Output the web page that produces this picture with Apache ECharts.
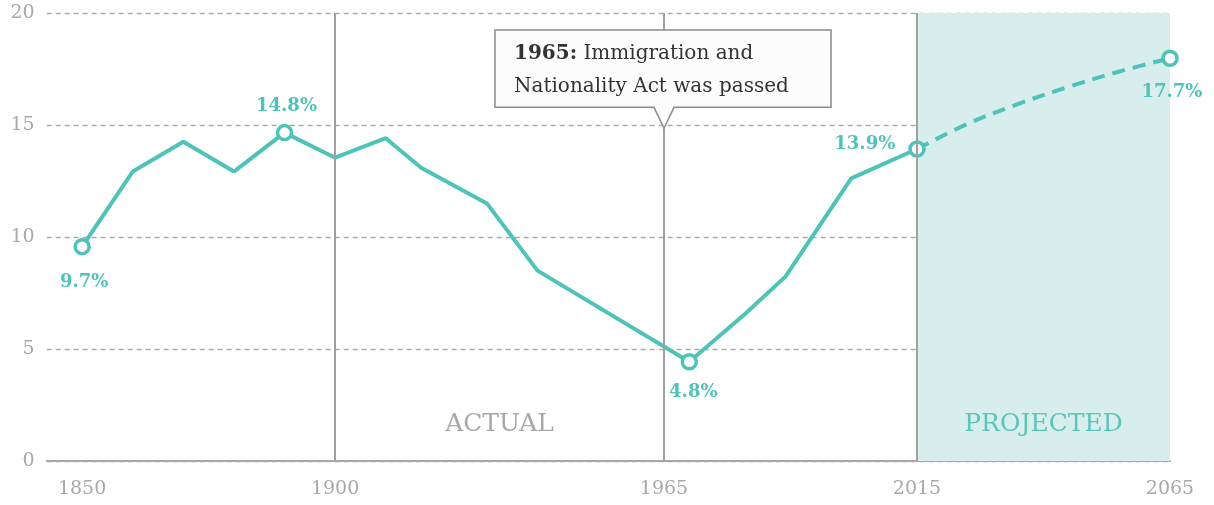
<!DOCTYPE html>
<html><head><meta charset="utf-8">
<script src="https://cdn.jsdelivr.net/npm/echarts@6/dist/echarts.min.js"></script>
<style>html,body{margin:0;padding:0;background:#fff}#c{width:1214px;height:505px}</style>
</head><body><div id="c"></div>
<script>
// ---- data ----
const histYears = [1850,1860,1870,1880,1890,1900,1910,1917,1930,1940,1970,1981,1989,2002,2015];
const histShare = [9.57,12.92,14.25,12.92,14.66,13.54,14.41,13.09,11.5,8.5,4.43,6.56,8.23,12.62,13.93];
const projYears = [2015,2025,2035,2045,2055,2065];
const projShare = [13.93,15.05,15.94,16.71,17.39,17.98];
const calloutYears = [1850,1890,1970,2015,2065];
const calloutText = ['9.7%','14.8%','4.8%','13.9%','17.7%'];
const xTickLabels = [1850,1900,1965,2015,2065];
const eventYears = [1900,1965,2015];
const periodNames = ['ACTUAL','PROJECTED'];
const periodStart = [1900,2015];
const periodEnd = [1965,2065];
const annotationYear = 1965;
const annotationBold = '1965:';
const annotationLines = ['Immigration and','Nationality Act was passed'];

// ---- styles ----
const TEAL = '#4fc3b9';
const SERIF = '"DejaVu Serif", "Liberation Serif", serif';
const calloutPlacement = {
  1850:{position:'bottom',distance:18,offset:[2,0]},
  1890:{position:'top',distance:9,offset:[2,0]},
  1970:{position:'bottom',distance:13,offset:[4,0]},
  2015:{position:'left',distance:13,offset:[0,-5]},
  2065:{position:'bottom',distance:16,offset:[2,0]}
};
function pointItem(year, val){
  const k = calloutYears.indexOf(year);
  if (k < 0) return {value:[year,val], symbol:'none'};
  const p = calloutPlacement[year];
  return {
    value:[year,val], symbol:'circle', symbolSize:14,
    itemStyle:{color:'#fff', borderColor:TEAL, borderWidth:3.5},
    label:{show:true, formatter:calloutText[k], position:p.position, distance:p.distance, offset:p.offset,
      fontFamily:SERIF, fontWeight:'bold', fontSize:18, color:TEAL}
  };
}

const chart = echarts.init(document.getElementById('c'), null, {renderer:'canvas'});
const option = {
  animation:false,
  backgroundColor:'#fff',
  grid:{left:46.7, right:44, top:13, bottom:44},
  xAxis:{
    type:'value', min:1843, max:2065,
    axisLine:{show:true, lineStyle:{color:'#a8a8a8', width:2}},
    axisTick:{show:false, customValues:xTickLabels},
    axisLabel:{customValues:xTickLabels, margin:19, color:'#a8a8a8', fontFamily:SERIF, fontSize:19, formatter:v=>String(v)},
    splitLine:{show:false}
  },
  yAxis:{
    type:'value', min:0, max:20, interval:5,
    axisLine:{show:false}, axisTick:{show:false},
    axisLabel:{margin:12, color:'#a8a8a8', fontFamily:SERIF, fontSize:19},
    splitLine:{show:true, lineStyle:{color:'#aaaaaa', width:1.3, type:[5,4]}}
  },
  series:[
    { // shaded periods + period names (under the grid lines)
      type:'line', data:[], z:-1, silent:true,
      markArea:{silent:true, data: periodNames.map((n,i)=>[
        {xAxis:periodStart[i], name:n,
         itemStyle:{color: i===1 ? '#d8eeec' : 'rgba(0,0,0,0)'},
         label:{show:true, position:'insideBottom', distance:24, fontFamily:SERIF, fontSize:25,
                color: i===1 ? '#5cc4bb' : '#a8a8a8'}},
        {xAxis:periodEnd[i]}
      ])}
    },
    { // vertical event lines
      type:'line', data:[], z:1, silent:true,
      markLine:{silent:true, symbol:['none','none'], label:{show:false},
        lineStyle:{color:'#a0a0a0', width:2, type:'solid'},
        data: eventYears.map(y=>({xAxis:y}))}
    },
    { // projection
      type:'line', z:2, smooth:0.35, showSymbol:true,
      lineStyle:{color:TEAL, width:4, type:[13,8]},
      itemStyle:{color:TEAL},
      data: projYears.map((y,i)=> i===0 ? {value:[y,projShare[i]], symbol:'none'} : pointItem(y,projShare[i]))
    },
    { // actual
      type:'line', z:3, showSymbol:true,
      lineStyle:{color:TEAL, width:4},
      itemStyle:{color:TEAL},
      data: histYears.map((y,i)=>pointItem(y,histShare[i]))
    }
  ]
};
chart.setOption(option);

// annotation box anchored to the 1965 line
const tipPt = chart.convertToPixel({gridIndex:0},[annotationYear, 14.85]);
const ax = tipPt[0], ty = tipPt[1];
const boxTop = 30, boxBot = ty - 21, boxL = ax - 169, boxR = ax + 167;
chart.setOption({graphic:[
  {type:'polygon', z:10, shape:{points:[[boxL,boxTop],[boxR,boxTop],[boxR,boxBot],[ax+10,boxBot],[ax,ty],[ax-10,boxBot],[boxL,boxBot]]},
   style:{fill:'#fcfcfc', stroke:'#8a8a8a', lineWidth:1.5}},
  {type:'text', z:11, x:boxL+19, y:boxTop+7,
   style:{text:'{b|'+annotationBold+'} '+annotationLines[0]+'\n'+annotationLines[1],
     font:'20px '+SERIF, fill:'#333', lineHeight:33,
     rich:{b:{fontWeight:'bold', fontFamily:SERIF, fontSize:20, fill:'#333', lineHeight:33}}}}
]});
</script></body></html>
